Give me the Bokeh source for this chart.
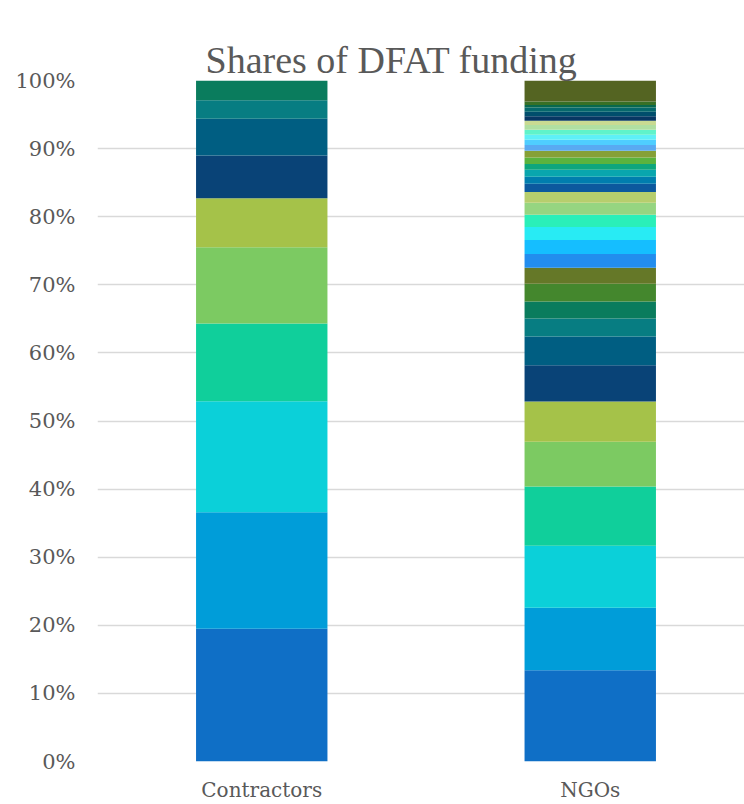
import colorsys
import numpy as np
from bokeh.plotting import figure
from bokeh.models import ColumnDataSource, FixedTicker, NumeralTickFormatter, Title
from bokeh.embed import file_html
from bokeh.resources import INLINE

# ---- data (percent shares, bottom to top) ----
title_text = "Shares of DFAT funding"
categories = ["Contractors", "NGOs"]
contractors = [19.5, 17.1, 16.3, 11.4, 11.2, 7.2, 6.3, 5.4, 2.7, 2.9]
ngos = [13.4, 9.2, 9.1, 8.7, 6.6, 5.9, 5.35, 4.2, 2.65, 2.5, 2.6, 2.35,
        2.05, 2.05, 1.9, 1.8, 1.75, 1.6, 1.2, 1.05, 1.0, 0.85, 0.97, 1.0,
        0.84, 0.78, 0.73, 0.73, 0.7, 0.63, 0.63, 0.69, 0.63, 0.35, 0.5, 3.1]
y_ticks = [0, 0.1, 0.2, 0.3, 0.4, 0.5, 0.6, 0.7, 0.8, 0.9, 1.0]

# ---- Office "Blue Green" theme palette with Excel-style variations ----
accents = ["#0F6FC6", "#009DD9", "#0BD0D9", "#10CF9B", "#7CCA62", "#A5C249"]
variations = [(1.0, 0.0), (0.6, 0.0), (0.8, 0.2), (0.8, 0.0), (0.6, 0.4), (0.5, 0.0)]


def vary(hexcol, mod, off):
    r, g, b = (int(hexcol[i:i + 2], 16) / 255 for i in (1, 3, 5))
    h, l, s = colorsys.rgb_to_hls(r, g, b)
    l = min(1.0, max(0.0, l * mod + off))
    r, g, b = colorsys.hls_to_rgb(h, l, s)
    return "#%02X%02X%02X" % (round(r * 255), round(g * 255), round(b * 255))


palette = [vary(c, m, o) for (m, o) in variations for c in accents]

# ---- build stacked segments ----
xs, bottoms, tops, colors = [], [], [], []
for i, vals in enumerate([contractors, ngos]):
    arr = np.array(vals, dtype=float)
    arr = arr / arr.sum()
    cum = np.concatenate([[0.0], np.cumsum(arr)])
    for j in range(len(arr)):
        xs.append(i + 0.5)
        bottoms.append(cum[j])
        tops.append(cum[j + 1])
        colors.append(palette[j % len(palette)])

src = ColumnDataSource(dict(x=xs, bottom=bottoms, top=tops, color=colors))

FW = 744
FL = 97
unit = 328.5
p = figure(width=FW, height=804, output_backend="svg", toolbar_location=None,
           x_range=(0, (FW - FL) / unit), y_range=(0, 1),
           min_border_left=FL, min_border_right=0, min_border_top=80,
           min_border_bottom=43)

p.vbar(x="x", width=0.4, bottom="bottom", top="top", fill_color="color",
       line_color=None, source=src)

# built-in title unused
p.title.text = ""

# invisible spacer panel next to the frame (added first = closest to frame)
spacer = Title(text="|", text_font_size="2px", text_alpha=0, standoff=31)
p.add_layout(spacer, "above")

# the visible chart title, stacked above the spacer
main_title = Title(text=title_text, text_font="Liberation Serif",
                   text_font_size="38px", text_font_style="normal",
                   text_color="#595959", align="left", offset=108, standoff=0)
p.add_layout(main_title, "above")

p.outline_line_color = None
p.xgrid.grid_line_color = None
p.ygrid.grid_line_color = "#D9D9D9"
p.ygrid.grid_line_width = 1.3

p.yaxis.ticker = FixedTicker(ticks=y_ticks)
p.yaxis.formatter = NumeralTickFormatter(format="0%")
p.yaxis.axis_line_color = None
p.yaxis.major_tick_line_color = None
p.yaxis.minor_tick_line_color = None
p.yaxis.major_tick_out = 0
p.yaxis.major_label_standoff = 22
p.yaxis.major_label_text_font = "DejaVu Serif"
p.yaxis.major_label_text_font_size = "21px"
p.yaxis.major_label_text_color = "#595959"

p.xaxis.ticker = FixedTicker(ticks=[0.5, 1.5])
p.xaxis.major_label_overrides = {0.5: categories[0], 1.5: categories[1]}
p.xaxis.axis_line_color = None
p.xaxis.major_tick_line_color = None
p.xaxis.minor_tick_line_color = None
p.xaxis.major_tick_out = 0
p.xaxis.major_label_standoff = 16
p.xaxis.major_label_text_font = "DejaVu Serif"
p.xaxis.major_label_text_font_size = "20px"
p.xaxis.major_label_text_color = "#595959"

open("out.html", "w").write(file_html(p, INLINE))
